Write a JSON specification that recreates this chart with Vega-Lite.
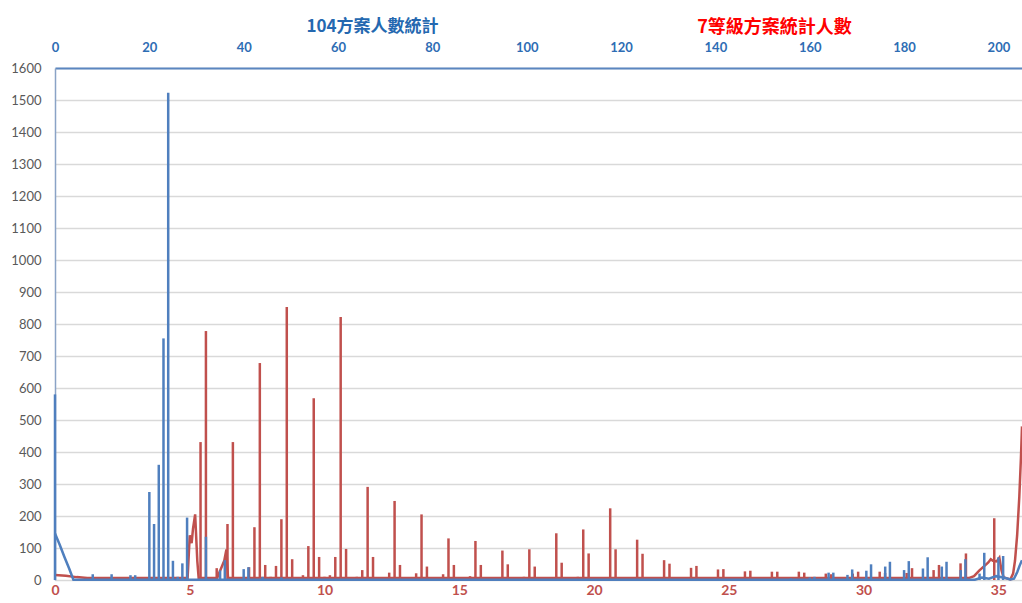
{
  "$schema": "https://vega.github.io/schema/vega-lite/v6.json",
  "width": 967,
  "height": 512,
  "autosize": "none",
  "padding": {"left": 55, "top": 68, "right": 0, "bottom": 23},
  "background": "white",
  "config": {"view": {"stroke": null}},
  "datasets": {
    "redLine": [
      {"x": 0, "y": 16}, {"x": 0.4, "y": 13}, {"x": 0.8, "y": 9}, {"x": 1.2, "y": 6},
      {"x": 4.92, "y": 6}, {"x": 5.0, "y": 140}, {"x": 5.07, "y": 115}, {"x": 5.12, "y": 160},
      {"x": 5.2, "y": 205}, {"x": 5.28, "y": 60}, {"x": 5.33, "y": 6}, {"x": 6.02, "y": 6},
      {"x": 6.08, "y": 20}, {"x": 6.18, "y": 40}, {"x": 6.28, "y": 60}, {"x": 6.36, "y": 95},
      {"x": 6.42, "y": 6}, {"x": 33.9, "y": 6}, {"x": 34.1, "y": 12}, {"x": 34.3, "y": 30},
      {"x": 34.5, "y": 45}, {"x": 34.63, "y": 55}, {"x": 34.72, "y": 65}, {"x": 34.8, "y": 60},
      {"x": 34.94, "y": 58}, {"x": 35.04, "y": 70}, {"x": 35.12, "y": 30}, {"x": 35.2, "y": 8},
      {"x": 35.45, "y": 2}, {"x": 35.55, "y": 20}, {"x": 35.62, "y": 60}, {"x": 35.7, "y": 140},
      {"x": 35.78, "y": 260}, {"x": 35.84, "y": 380}, {"x": 35.88, "y": 480}
    ],
    "redSpikes": [
      {"x": 5.4, "v": 431}, {"x": 5.6, "v": 778},
      {"x": 6.0, "v": 37}, {"x": 6.4, "v": 175}, {"x": 6.6, "v": 431},
      {"x": 7.2, "v": 40}, {"x": 7.4, "v": 165}, {"x": 7.6, "v": 678}, {"x": 7.8, "v": 47},
      {"x": 8.0, "v": 10}, {"x": 8.2, "v": 44}, {"x": 8.4, "v": 190}, {"x": 8.6, "v": 853}, {"x": 8.8, "v": 65},
      {"x": 9.0, "v": 8}, {"x": 9.2, "v": 15}, {"x": 9.4, "v": 106}, {"x": 9.6, "v": 568}, {"x": 9.8, "v": 72},
      {"x": 10.0, "v": 10}, {"x": 10.2, "v": 15}, {"x": 10.4, "v": 72}, {"x": 10.6, "v": 822}, {"x": 10.8, "v": 97},
      {"x": 11.2, "v": 10}, {"x": 11.4, "v": 31}, {"x": 11.6, "v": 291}, {"x": 11.8, "v": 72},
      {"x": 12.2, "v": 8}, {"x": 12.4, "v": 23}, {"x": 12.6, "v": 247}, {"x": 12.8, "v": 47},
      {"x": 13.4, "v": 21}, {"x": 13.6, "v": 205}, {"x": 13.8, "v": 42},
      {"x": 14.4, "v": 18}, {"x": 14.6, "v": 130}, {"x": 14.8, "v": 47},
      {"x": 15.4, "v": 12}, {"x": 15.6, "v": 122}, {"x": 15.8, "v": 47},
      {"x": 16.4, "v": 8}, {"x": 16.6, "v": 92}, {"x": 16.8, "v": 49},
      {"x": 17.4, "v": 10}, {"x": 17.6, "v": 96}, {"x": 17.8, "v": 42},
      {"x": 18.4, "v": 8}, {"x": 18.6, "v": 146}, {"x": 18.8, "v": 54},
      {"x": 19.4, "v": 10}, {"x": 19.6, "v": 158}, {"x": 19.8, "v": 83},
      {"x": 20.4, "v": 8}, {"x": 20.6, "v": 224}, {"x": 20.8, "v": 96},
      {"x": 21.6, "v": 126}, {"x": 21.8, "v": 82},
      {"x": 22.6, "v": 62}, {"x": 22.8, "v": 51},
      {"x": 23.6, "v": 38}, {"x": 23.8, "v": 44},
      {"x": 24.6, "v": 33}, {"x": 24.8, "v": 34},
      {"x": 25.6, "v": 27}, {"x": 25.8, "v": 29},
      {"x": 26.6, "v": 26}, {"x": 26.8, "v": 26},
      {"x": 27.6, "v": 26}, {"x": 27.8, "v": 23},
      {"x": 28.6, "v": 20}, {"x": 28.8, "v": 18},
      {"x": 29.6, "v": 20}, {"x": 29.8, "v": 26},
      {"x": 30.6, "v": 26}, {"x": 30.8, "v": 22},
      {"x": 31.6, "v": 22}, {"x": 31.8, "v": 37},
      {"x": 32.6, "v": 31}, {"x": 32.8, "v": 47},
      {"x": 33.6, "v": 52}, {"x": 33.8, "v": 83},
      {"x": 34.85, "v": 193}
    ],
    "blueLine": [
      {"x": 0, "y": 145}, {"x": 1, "y": 110}, {"x": 2, "y": 72}, {"x": 3, "y": 36}, {"x": 3.9, "y": 1},
      {"x": 195, "y": 1}, {"x": 196.5, "y": 8}, {"x": 198, "y": 4}, {"x": 199.5, "y": 12},
      {"x": 201.5, "y": 6}, {"x": 202.5, "y": 2}, {"x": 203.3, "y": 4}, {"x": 204, "y": 25},
      {"x": 204.5, "y": 45}, {"x": 205, "y": 62}
    ],
    "blueSpikes": [
      {"x": 0, "v": 580}, {"x": 8, "v": 18}, {"x": 12, "v": 18}, {"x": 16, "v": 15}, {"x": 17, "v": 15},
      {"x": 20, "v": 275}, {"x": 21, "v": 175}, {"x": 22, "v": 360}, {"x": 23, "v": 755}, {"x": 24, "v": 1523},
      {"x": 25, "v": 60}, {"x": 26, "v": 10}, {"x": 27, "v": 52}, {"x": 28, "v": 195},
      {"x": 32, "v": 135}, {"x": 35, "v": 30}, {"x": 36, "v": 62}, {"x": 40, "v": 34}, {"x": 41, "v": 40},
      {"x": 44, "v": 10}, {"x": 48, "v": 8},
      {"x": 156, "v": 5}, {"x": 160, "v": 8}, {"x": 161, "v": 10},
      {"x": 164, "v": 23}, {"x": 165, "v": 23}, {"x": 168, "v": 16}, {"x": 169, "v": 33},
      {"x": 172, "v": 29}, {"x": 173, "v": 49}, {"x": 176, "v": 42}, {"x": 177, "v": 57},
      {"x": 180, "v": 31}, {"x": 181, "v": 59}, {"x": 184, "v": 36}, {"x": 185, "v": 71},
      {"x": 188, "v": 42}, {"x": 189, "v": 57}, {"x": 192, "v": 31}, {"x": 193, "v": 65},
      {"x": 196, "v": 20}, {"x": 197, "v": 85}, {"x": 200, "v": 71}, {"x": 201, "v": 75}
    ]
  },
  "layer": [
    {
      "encoding": {
        "x": {
          "field": "x", "type": "quantitative",
          "scale": {"domain": [0, 35.88], "nice": false, "zero": false},
          "axis": {
            "orient": "bottom", "values": [0, 5, 10, 15, 20, 25, 30, 35],
            "grid": false, "ticks": false, "domain": false,
            "labelFont": "Lato", "labelFontSize": 14, "labelFontWeight": "bold", "labelColor": "#c0504d",
            "labelPadding": 3, "labelFlush": false, "labelOverlap": false,
            "title": "7等級方案統計人數", "titleFont": "Noto Sans CJK TC", "titleFontSize": 18,
            "titleFontWeight": "bold", "titleColor": "#ff0000", "titleX": 719, "titleY": -553,
            "titleAlign": "center", "titleBaseline": "middle", "titleAngle": 0
          }
        }
      },
      "layer": [
        {
          "data": {"name": "redLine"},
          "mark": {"type": "line", "color": "#c0504d", "strokeWidth": 2.5},
          "encoding": {
            "y": {"field": "y", "type": "quantitative"}
          }
        },
        {
          "data": {"name": "redSpikes"},
          "mark": {"type": "rule", "color": "#c0504d", "strokeWidth": 2.5},
          "encoding": {
            "y": {"field": "v", "type": "quantitative"},
            "y2": {"datum": 0}
          }
        }
      ]
    },
    {
      "encoding": {
        "x": {
          "field": "x", "type": "quantitative",
          "scale": {"domain": [0, 205], "nice": false, "zero": false},
          "axis": {
            "orient": "top", "values": [0, 20, 40, 60, 80, 100, 120, 140, 160, 180, 200],
            "grid": false, "ticks": false, "domain": true, "domainColor": "#5b86c0", "domainWidth": 2,
            "labelFont": "Lato", "labelFontSize": 13, "labelFontWeight": "bold", "labelColor": "#2e6db4",
            "labelPadding": 14, "labelFlush": false, "labelOverlap": false,
            "title": "104方案人數統計", "titleFont": "Noto Sans CJK TC", "titleFontSize": 17,
            "titleFontWeight": "bold", "titleColor": "#2468b0", "titleX": 317, "titleY": -42,
            "titleAlign": "center", "titleBaseline": "middle", "titleAngle": 0
          }
        }
      },
      "layer": [
        {
          "data": {"name": "blueLine"},
          "mark": {"type": "line", "color": "#4f7fbe", "strokeWidth": 2.5},
          "encoding": {
            "y": {"field": "y", "type": "quantitative"}
          }
        },
        {
          "data": {"name": "blueSpikes"},
          "mark": {"type": "rule", "color": "#4f7fbe", "strokeWidth": 2.5},
          "encoding": {
            "y": {"field": "v", "type": "quantitative"},
            "y2": {"datum": 0}
          }
        }
      ]
    }
  ],
  "encoding": {
    "y": {
      "type": "quantitative",
      "scale": {"domain": [0, 1600], "nice": false},
      "axis": {
        "values": [0, 100, 200, 300, 400, 500, 600, 700, 800, 900, 1000, 1100, 1200, 1300, 1400, 1500, 1600],
        "format": "d",
        "grid": true, "gridColor": "#d9d9d9", "gridWidth": 1.3,
        "ticks": false, "domain": true, "domainColor": "#8aa3c6", "domainWidth": 1.5,
        "labelFont": "Lato", "labelFontSize": 13, "labelColor": "#595959", "labelPadding": 14,
        "title": null
      }
    }
  },
  "resolve": {"scale": {"x": "independent"}, "axis": {"x": "independent"}}
}
